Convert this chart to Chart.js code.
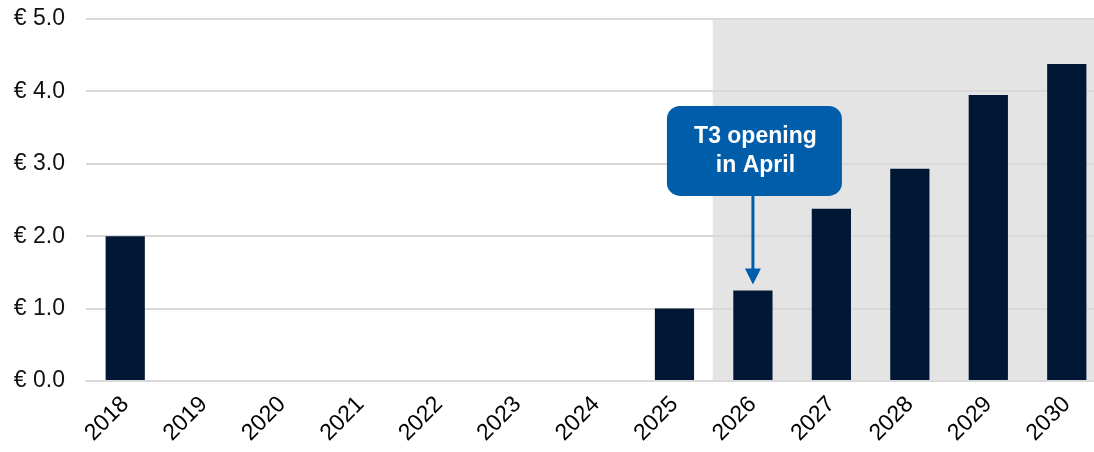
<!DOCTYPE html>
<html>
<head>
<meta charset="utf-8">
<script src="https://cdn.jsdelivr.net/npm/chart.js@4/dist/chart.umd.min.js"></script>
<style>
  html, body { margin: 0; padding: 0; background: #ffffff; overflow: hidden; }
  #wrap { position: relative; width: 1106px; height: 452px; }
</style>
</head>
<body>
<div id="wrap"><canvas id="c" width="1106" height="452"></canvas></div>
<script>
// Yearly values in €, with forecast years from 2026 onwards
const years = ['2018', '2019', '2020', '2021', '2022', '2023', '2024', '2025', '2026', '2027', '2028', '2029', '2030'];
const values = [2.0, null, null, null, null, null, null, 1.0, 1.25, 2.38, 2.93, 3.95, 4.38];
const yTicks = [0, 1, 2, 3, 4, 5];
const forecastStart = '2026';
const calloutYear = '2026';
const calloutLines = ['T3 opening', 'in April'];

const NAVY = '#001835';
const BLUE = '#005DAA';
const FONT = "'Liberation Sans', Arial, sans-serif";

// Grey band behind the forecast years
const forecastBand = {
  id: 'forecastBand',
  beforeDraw(chart) {
    const { ctx, chartArea, scales } = chart;
    const idx = years.indexOf(forecastStart);
    const x = (scales.x.getPixelForValue(idx - 1) + scales.x.getPixelForValue(idx)) / 2 - 1;
    ctx.save();
    ctx.fillStyle = '#e4e4e4';
    ctx.fillRect(x, chartArea.top, chartArea.right - x, chartArea.bottom - chartArea.top);
    ctx.restore();
  }
};

// Rounded note with an arrow pointing at one bar
const callout = {
  id: 'callout',
  afterDatasetsDraw(chart) {
    const { ctx, scales } = chart;
    const idx = years.indexOf(calloutYear);
    const cx = scales.x.getPixelForValue(idx);
    const barTop = scales.y.getPixelForValue(values[idx]);
    const boxW = 175, boxH = 90, r = 13;
    const bx = cx - 86, by = scales.y.getPixelForValue(3.8);
    ctx.save();
    ctx.fillStyle = BLUE;
    ctx.beginPath();
    ctx.roundRect(bx, by, boxW, boxH, r);
    ctx.fill();
    ctx.fillStyle = '#ffffff';
    ctx.font = 'bold 23px ' + FONT;
    ctx.textAlign = 'center';
    ctx.textBaseline = 'middle';
    ctx.fillText(calloutLines[0], bx + boxW / 2 + 1, by + 31);
    ctx.fillText(calloutLines[1], bx + boxW / 2 + 1, by + 60);
    // arrow
    const tipY = barTop - 6;
    ctx.strokeStyle = BLUE;
    ctx.fillStyle = BLUE;
    ctx.lineWidth = 3;
    ctx.beginPath();
    ctx.moveTo(cx, by + boxH);
    ctx.lineTo(cx, tipY - 14);
    ctx.stroke();
    ctx.beginPath();
    ctx.moveTo(cx - 8, tipY - 16);
    ctx.lineTo(cx + 8, tipY - 16);
    ctx.lineTo(cx, tipY);
    ctx.closePath();
    ctx.fill();
    ctx.restore();
  }
};

new Chart(document.getElementById('c'), {
  type: 'bar',
  data: {
    labels: years,
    datasets: [{
      data: values,
      backgroundColor: NAVY,
      barPercentage: 0.5,
      categoryPercentage: 1.0
    }]
  },
  options: {
    responsive: false,
    animation: false,
    devicePixelRatio: 1,
    layout: { padding: { top: 19, right: 0, left: 0, bottom: 0 } },
    plugins: {
      legend: { display: false },
      tooltip: { enabled: false }
    },
    scales: {
      x: {
        grid: { display: false },
        border: { display: true, color: '#d9d9d9', width: 2 },
        ticks: {
          color: '#000000',
          font: { family: FONT, size: 23 },
          minRotation: 45,
          maxRotation: 45,
          padding: 2
        },
        afterFit(scale) {
          scale.height = 71;
          scale.paddingLeft = 0; scale.paddingRight = 0;
          scale.paddingTop = 0; scale.paddingBottom = 0;
        }
      },
      y: {
        min: 0,
        max: 5,
        afterBuildTicks(scale) { scale.ticks = yTicks.map(v => ({ value: v })); },
        grid: { color: '#d9d9d9', lineWidth: 2, drawTicks: false },
        border: { display: false },
        ticks: {
          color: '#111111',
          font: { family: FONT, size: 23 },
          padding: 21,
          callback: v => '€ ' + Number(v).toFixed(1)
        },
        afterFit(scale) {
          scale.width = 86;
          scale.paddingTop = 0; scale.paddingBottom = 0;
          scale.paddingLeft = 0; scale.paddingRight = 0;
        }
      }
    }
  },
  plugins: [forecastBand, callout]
});
</script>
</body>
</html>
